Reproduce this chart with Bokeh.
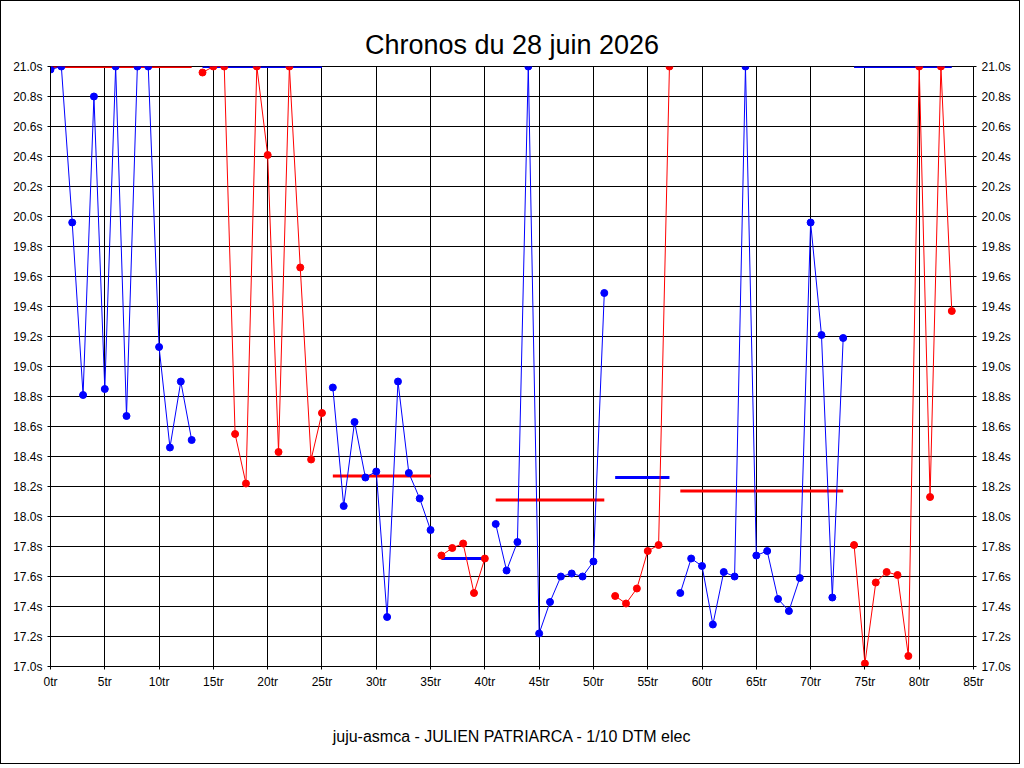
from bokeh.plotting import figure
from bokeh.models import FixedTicker, LinearAxis, Range1d
from bokeh.embed import file_html
from bokeh.resources import INLINE

# stints: laps, times, colour of points, average value, average line colour
stint_laps = [
    list(range(0, 14)), list(range(14, 26)), list(range(26, 36)), list(range(36, 41)),
    list(range(41, 52)), list(range(52, 58)), list(range(58, 74)), list(range(74, 84)),
]
stint_times = [
    [20.98, 21.0, 19.96, 18.81, 20.8, 18.85, 21.0, 18.67, 21.0, 21.0, 19.13, 18.46, 18.90, 18.51],
    [20.96, 21.0, 21.0, 18.55, 18.22, 21.0, 20.41, 18.43, 21.0, 19.66, 18.38, 18.69],
    [18.86, 18.07, 18.63, 18.26, 18.30, 17.33, 18.90, 18.29, 18.12, 17.91],
    [17.74, 17.79, 17.82, 17.49, 17.72],
    [17.95, 17.64, 17.83, 21.0, 17.22, 17.43, 17.60, 17.62, 17.60, 17.70, 19.49],
    [17.47, 17.42, 17.52, 17.77, 17.81, 21.0],
    [17.49, 17.72, 17.67, 17.28, 17.63, 17.60, 21.0, 17.74, 17.77, 17.45, 17.37, 17.59, 19.96, 19.21, 17.46, 19.19],
    [17.81, 17.02, 17.56, 17.63, 17.61, 17.07, 21.0, 18.13, 21.0, 19.37],
]
stint_colors = ["blue", "red", "blue", "red", "blue", "red", "blue", "red"]
stint_avgs = [21.0, 21.0, 18.27, 17.72, 18.11, 18.26, 18.17, 21.0]
avg_colors = ["red", "blue", "red", "blue", "red", "blue", "red", "blue"]

x_ticks = list(range(0, 90, 5))
y_ticks = [round(17.0 + 0.2 * i, 1) for i in range(21)]

p = figure(width=1020, height=764, output_backend="svg", toolbar_location=None,
           x_range=Range1d(0, 85), y_range=Range1d(17.0, 21.0),
           background_fill_color="white", border_fill_color="white",
           min_border_left=49, min_border_right=48, min_border_top=65, min_border_bottom=99)
p.styles = {"border": "1px solid black"}
p.title.text = "Chronos du 28 juin 2026"
p.title.align = "center"
p.title.text_font = "Liberation Sans"
p.title.text_font_size = "27px"
p.title.text_font_style = "normal"
p.title.text_color = "black"
p.title.offset = 0
p.title.standoff = 14
p.outline_line_color = "black"

for laps, times, c, avg, ac in zip(stint_laps, stint_times, stint_colors, stint_avgs, avg_colors):
    p.line([laps[0], laps[-1]], [avg, avg], color=ac, line_width=3)
    p.line(laps, times, color=c, line_width=1)
    p.scatter(laps, times, color=c, size=7)

font = "Liberation Sans"
p.xaxis.ticker = FixedTicker(ticks=x_ticks)
p.xaxis.major_label_overrides = {t: f"{t}tr" for t in x_ticks}
p.yaxis.ticker = FixedTicker(ticks=y_ticks)
p.yaxis.major_label_overrides = {t: f"{t:.1f}s" for t in y_ticks}
right = LinearAxis(ticker=FixedTicker(ticks=y_ticks),
                   major_label_overrides={t: f"{t:.1f}s" for t in y_ticks})
p.add_layout(right, "right")
for ax in [p.xaxis[0], p.yaxis[0], right]:
    ax.minor_tick_line_color = None
    ax.major_tick_out = 3
    ax.major_tick_in = 0
    ax.major_label_text_font = font
    ax.major_label_text_font_size = "12px"
    ax.major_label_text_color = "black"
    ax.axis_line_color = "black"
p.xaxis.axis_label = "juju-asmca - JULIEN PATRIARCA - 1/10 DTM elec"
p.xaxis.axis_label_standoff = 36
p.xaxis.axis_label_text_font = font
p.xaxis.axis_label_text_font_size = "16px"
p.xaxis.axis_label_text_font_style = "normal"
p.xaxis.axis_label_text_color = "black"

p.grid.grid_line_color = "black"
p.grid.grid_line_alpha = 1.0
p.xgrid.ticker = FixedTicker(ticks=x_ticks)
p.ygrid.ticker = FixedTicker(ticks=y_ticks)

open("out.html", "w").write(file_html(p, INLINE))
